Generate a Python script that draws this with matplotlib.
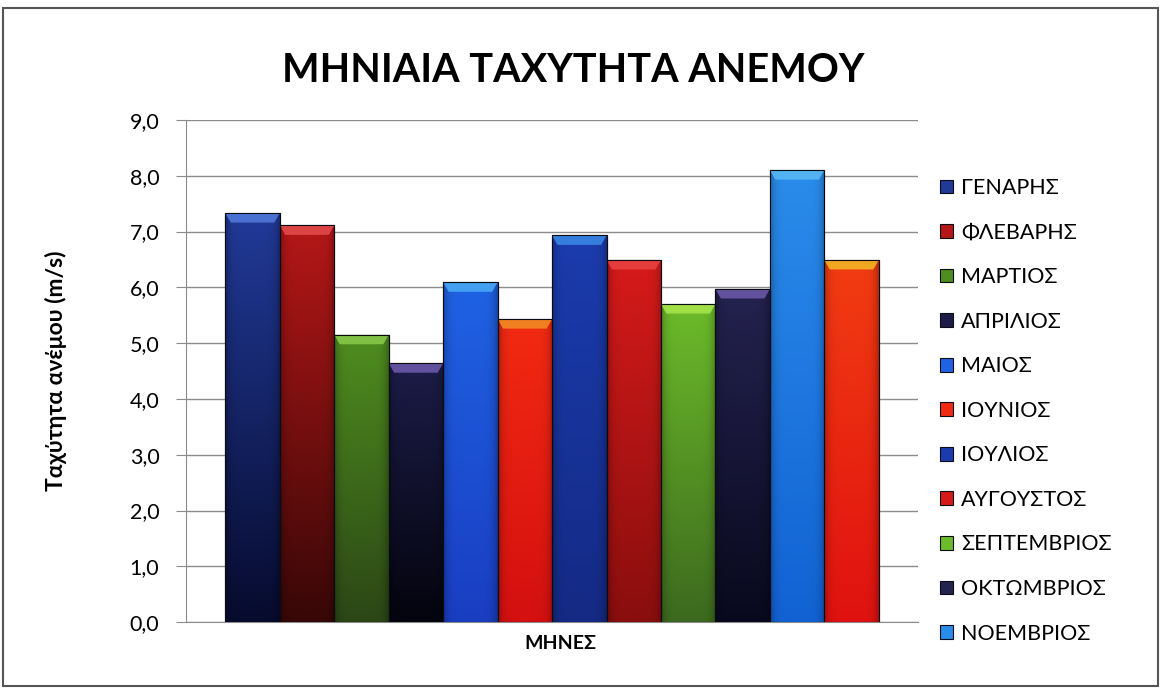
import numpy as np
import matplotlib
matplotlib.use("Agg")
import matplotlib.pyplot as plt
from matplotlib.patches import Rectangle, Polygon
from matplotlib.colors import to_rgb

plt.rcParams['font.family'] = ['Lato', 'Open Sans', 'DejaVu Sans']

# Monthly mean wind speed (m/s)
months = ["ΓΕΝΑΡΗΣ", "ΦΛΕΒΑΡΗΣ", "ΜΑΡΤΙΟΣ", "ΑΠΡΙΛΙΟΣ", "ΜΑΙΟΣ", "ΙΟΥΝΙΟΣ",
          "ΙΟΥΛΙΟΣ", "ΑΥΓΟΥΣΤΟΣ", "ΣΕΠΤΕΜΒΡΙΟΣ", "ΟΚΤΩΜΒΡΙΟΣ", "ΝΟΕΜΒΡΙΟΣ",
          "ΔΕΚΕΜΒΡΙΟΣ"]
speeds = [7.33, 7.11, 5.15, 4.64, 6.09, 5.43, 6.93, 6.49, 5.70, 5.97, 8.10, 6.49]
yticks = [0, 1, 2, 3, 4, 5, 6, 7, 8, 9]
legend_count = 11

title = "ΜΗΝΙΑΙΑ ΤΑΧΥΤΗΤΑ ΑΝΕΜΟΥ"
ylabel = "Ταχύτητα ανέμου (m/s)"
xlabel = "ΜΗΝΕΣ"

# (top colour, bottom colour, bevel colour) per series
styles = [
    ("#213a98", "#070b2e", "#4f78d8"),
    ("#b51717", "#380707", "#e24a4a"),
    ("#4f8d1f", "#2b4716", "#86c84a"),
    ("#1c1c48", "#04040e", "#6a58a8"),
    ("#1f62e4", "#1a3ec2", "#48a8f2"),
    ("#f22a12", "#d41010", "#f28a24"),
    ("#1b3cae", "#142a84", "#3a86e4"),
    ("#d61a1a", "#8a0e0e", "#e84040"),
    ("#6cbb2a", "#3d6a1e", "#a6e44a"),
    ("#24224f", "#09091e", "#6a58a8"),
    ("#2a8cea", "#1262d4", "#58b8f4"),
    ("#f23c12", "#e01210", "#f2b424"),
]

fig = plt.figure(figsize=(11.61, 6.89), dpi=100)
ax = fig.add_axes([0.160, 0.097, 0.631, 0.729])

n = len(speeds)
group = 0.892
w = group / n
xs = -group / 2 + w * (np.arange(n) + 0.5)

handles = []
for i, (x, v) in enumerate(zip(xs, speeds)):
    top, bot, bev = styles[i]
    b = ax.bar(x, v, width=w, color=top, edgecolor="#0b0b14", linewidth=0.8,
               label=months[i], zorder=3)[0]
    handles.append(b)
    # vertical gradient with slightly darker side edges
    ny, nx = 64, 32
    t = np.linspace(0, 1, ny)[:, None, None]
    c = (1 - t) * np.array(to_rgb(bot)) + t * np.array(to_rgb(top))
    sx = np.linspace(-1, 1, nx)[None, :, None]
    shade = 1 - 0.25 * np.abs(sx) ** 6
    img = np.clip(c * shade, 0, 1)
    im = ax.imshow(img, extent=[x - w / 2, x + w / 2, 0, v], origin="lower",
                   aspect="auto", zorder=3.1, interpolation="bilinear")
    im.set_clip_path(b)
    # bevelled top edge
    dy, dx = 0.17, w * 0.1
    ax.add_patch(Polygon([(x - w / 2, v), (x + w / 2, v),
                          (x + w / 2 - dx, v - dy), (x - w / 2 + dx, v - dy)],
                         closed=True, facecolor=bev, edgecolor="none",
                         alpha=0.9, zorder=3.2))
    ax.add_patch(Rectangle((x - w / 2, 0), w, v, fill=False,
                           edgecolor="#0b0b14", linewidth=0.8, zorder=3.3))

ax.set_xlim(-0.5, 0.5)
ax.set_ylim(0, 9)
ax.set_yticks(yticks)
ax.set_yticklabels([f"{t:.1f}".replace(".", ",") for t in yticks], fontsize=15.5)
ax.set_xticks([])
ax.yaxis.grid(True, color="#8c8c8c", linewidth=1.0, zorder=0)
ax.set_axisbelow(True)
for s in ["top", "right"]:
    ax.spines[s].set_visible(False)
ax.spines["left"].set_color("#8c8c8c")
ax.spines["bottom"].set_color("#8c8c8c")
ax.tick_params(axis="y", direction="out", length=7, color="#8c8c8c", pad=12)

ax.set_ylabel(ylabel, fontsize=16.5, fontweight="bold")
ax.yaxis.set_label_coords(-0.162, 0.50)
ax.set_xlabel(xlabel, fontsize=14, fontweight="bold", labelpad=9)
ax.xaxis.label.set_x(0.511)

fig.text(0.494, 0.897, title, ha="center", va="center", fontsize=28.5,
         fontweight="bold")

leg = fig.legend(handles[:legend_count], months[:legend_count],
                 loc="upper left", bbox_to_anchor=(0.802, 0.754),
                 frameon=False, fontsize=15.5, handlelength=0.6,
                 handleheight=0.6, handletextpad=0.4, labelspacing=1.14,
                 borderaxespad=0)

fig.patches.append(Rectangle((0.003, 0.005), 0.994, 0.983,
                             transform=fig.transFigure, fill=False,
                             edgecolor="#555555", linewidth=1.5))

fig.savefig("out.png", dpi=100, facecolor="white")
